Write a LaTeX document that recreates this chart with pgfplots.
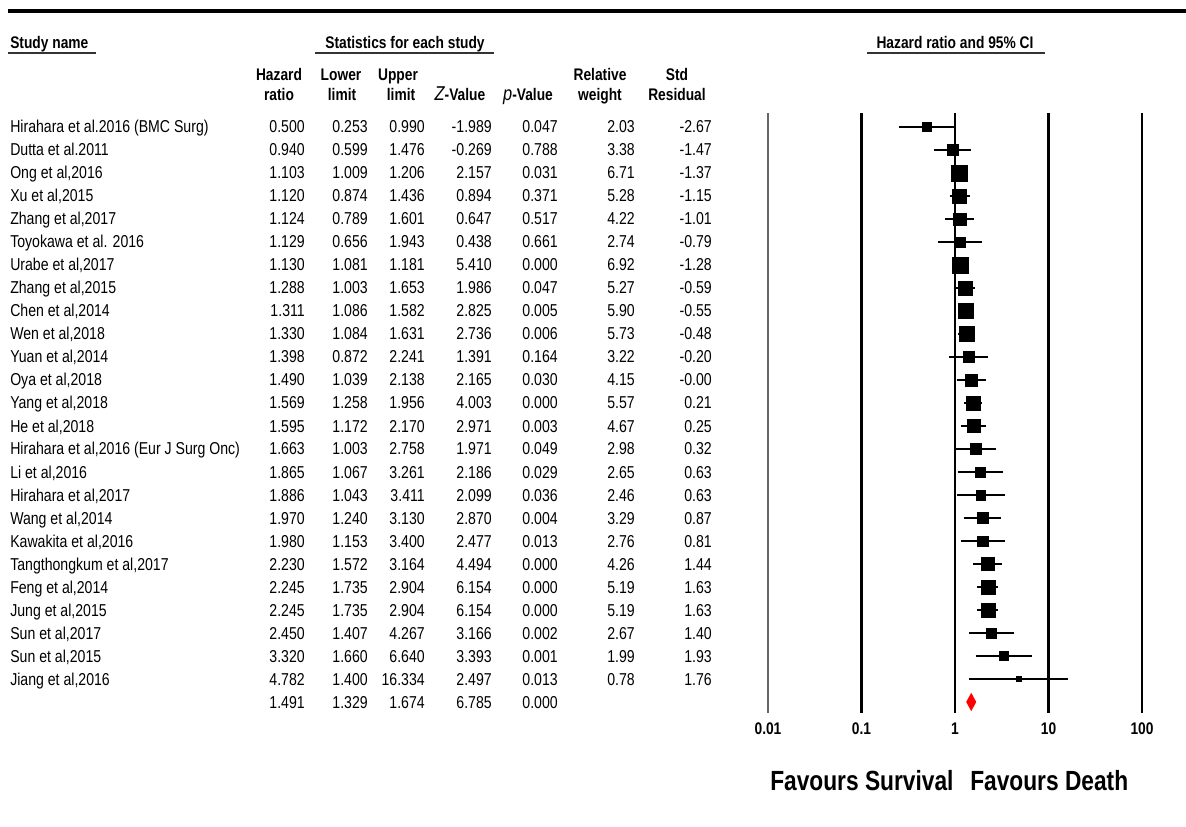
\documentclass[border=0pt]{standalone}
\usepackage{pgfplots}
\pgfplotsset{compat=1.18}
\usepackage{pgfplotstable}
\usepackage{fontspec}
\setmainfont{Liberation Sans}[FakeStretch=0.82]
\newcommand{\rowfont}{\fontsize{12.9}{14}\selectfont}
\newcommand{\hdfont}{\fontsize{12.6}{14}\selectfont\bfseries}
\newcommand{\ivfont}{\fontsize{15}{15}\selectfont\mdseries\itshape}

\pgfplotstableread{
i hr lo hi w
0 0.500 0.253 0.990 2.03
1 0.940 0.599 1.476 3.38
2 1.103 1.009 1.206 6.71
3 1.120 0.874 1.436 5.28
4 1.124 0.789 1.601 4.22
5 1.129 0.656 1.943 2.74
6 1.130 1.081 1.181 6.92
7 1.288 1.003 1.653 5.27
8 1.311 1.086 1.582 5.90
9 1.330 1.084 1.631 5.73
10 1.398 0.872 2.241 3.22
11 1.490 1.039 2.138 4.15
12 1.569 1.258 1.956 5.57
13 1.595 1.172 2.170 4.67
14 1.663 1.003 2.758 2.98
15 1.865 1.067 3.261 2.65
16 1.886 1.043 3.411 2.46
17 1.970 1.240 3.130 3.29
18 1.980 1.153 3.400 2.76
19 2.230 1.572 3.164 4.26
20 2.245 1.735 2.904 5.19
21 2.245 1.735 2.904 5.19
22 2.450 1.407 4.267 2.67
23 3.320 1.660 6.640 1.99
24 4.782 1.400 16.334 0.78
}\studies

\newcommand{\ci}[3]{\addplot[black, line width=2.1pt] coordinates {(#2,#1) (#3,#1)};}
\newcommand{\vl}[1]{\addplot[black, line width=2pt] coordinates {(#1,-0.609) (#1,25.48)};}

\newcommand{\trow}[9]{%
  \node[anchor=base west, inner sep=0pt] at (10,{133+23*#1}) {#2};
  \node[anchor=base east, inner sep=0pt] at (305,{133+23*#1}) {#3};
  \node[anchor=base east, inner sep=0pt] at (368,{133+23*#1}) {#4};
  \node[anchor=base east, inner sep=0pt] at (425,{133+23*#1}) {#5};
  \node[anchor=base east, inner sep=0pt] at (492,{133+23*#1}) {#6};
  \node[anchor=base east, inner sep=0pt] at (558,{133+23*#1}) {#7};
  \node[anchor=base east, inner sep=0pt] at (635,{133+23*#1}) {#8};
  \node[anchor=base east, inner sep=0pt] at (712,{133+23*#1}) {#9};
}

\begin{document}
\begin{tikzpicture}
\begin{scope}[x=0.75pt, y=-0.75pt]
\useasboundingbox (0,0) rectangle (1186,827);
% top rule
\draw[black, line width=3pt] (8,11) -- (1186,11);
% group headers
\node[anchor=base west, inner sep=0pt, font=\hdfont] at (10,49) {Study name};
\draw[black!80, line width=1.4pt] (8,53) -- (96,53);
\node[anchor=base, inner sep=0pt, font=\hdfont] at (405,49) {Statistics for each study};
\draw[black!80, line width=1.4pt] (315,53) -- (494,53);
\node[anchor=base, inner sep=0pt, font=\hdfont] at (955,49) {Hazard ratio and 95\% CI};
\draw[black!80, line width=1.4pt] (867,53) -- (1045,53);
% column headers
\begin{scope}[every node/.style={anchor=base, inner sep=0pt, font=\hdfont}]
\node at (279,81) {Hazard}; \node at (279,101) {ratio};
\node at (341,81) {Lower};  \node at (342,101) {limit};
\node at (398,81) {Upper};  \node at (401,101) {limit};
\node at (460,101) {{\ivfont Z}-Value};
\node at (528,101) {{\ivfont p}-Value};
\node at (600,81) {Relative}; \node at (600,101) {weight};
\node at (677,81) {Std}; \node at (677,101) {Residual};
\end{scope}
% table rows
\begin{scope}[every node/.style={font=\rowfont}]
\trow{0}{Hirahara et al.2016 (BMC Surg)}{0.500}{0.253}{0.990}{-1.989}{0.047}{2.03}{-2.67}
\trow{1}{Dutta et al.2011}{0.940}{0.599}{1.476}{-0.269}{0.788}{3.38}{-1.47}
\trow{2}{Ong et al,2016}{1.103}{1.009}{1.206}{2.157}{0.031}{6.71}{-1.37}
\trow{3}{Xu et al,2015}{1.120}{0.874}{1.436}{0.894}{0.371}{5.28}{-1.15}
\trow{4}{Zhang et al,2017}{1.124}{0.789}{1.601}{0.647}{0.517}{4.22}{-1.01}
\trow{5}{Toyokawa et al. 2016}{1.129}{0.656}{1.943}{0.438}{0.661}{2.74}{-0.79}
\trow{6}{Urabe et al,2017}{1.130}{1.081}{1.181}{5.410}{0.000}{6.92}{-1.28}
\trow{7}{Zhang et al,2015}{1.288}{1.003}{1.653}{1.986}{0.047}{5.27}{-0.59}
\trow{8}{Chen et al,2014}{1.311}{1.086}{1.582}{2.825}{0.005}{5.90}{-0.55}
\trow{9}{Wen et al,2018}{1.330}{1.084}{1.631}{2.736}{0.006}{5.73}{-0.48}
\trow{10}{Yuan et al,2014}{1.398}{0.872}{2.241}{1.391}{0.164}{3.22}{-0.20}
\trow{11}{Oya et al,2018}{1.490}{1.039}{2.138}{2.165}{0.030}{4.15}{-0.00}
\trow{12}{Yang et al,2018}{1.569}{1.258}{1.956}{4.003}{0.000}{5.57}{0.21}
\trow{13}{He et al,2018}{1.595}{1.172}{2.170}{2.971}{0.003}{4.67}{0.25}
\trow{14}{Hirahara et al,2016 (Eur J Surg Onc)}{1.663}{1.003}{2.758}{1.971}{0.049}{2.98}{0.32}
\trow{15}{Li et al,2016}{1.865}{1.067}{3.261}{2.186}{0.029}{2.65}{0.63}
\trow{16}{Hirahara et al,2017}{1.886}{1.043}{3.411}{2.099}{0.036}{2.46}{0.63}
\trow{17}{Wang et al,2014}{1.970}{1.240}{3.130}{2.870}{0.004}{3.29}{0.87}
\trow{18}{Kawakita et al,2016}{1.980}{1.153}{3.400}{2.477}{0.013}{2.76}{0.81}
\trow{19}{Tangthongkum et al,2017}{2.230}{1.572}{3.164}{4.494}{0.000}{4.26}{1.44}
\trow{20}{Feng et al,2014}{2.245}{1.735}{2.904}{6.154}{0.000}{5.19}{1.63}
\trow{21}{Jung et al,2015}{2.245}{1.735}{2.904}{6.154}{0.000}{5.19}{1.63}
\trow{22}{Sun et al,2017}{2.450}{1.407}{4.267}{3.166}{0.002}{2.67}{1.40}
\trow{23}{Sun et al,2015}{3.320}{1.660}{6.640}{3.393}{0.001}{1.99}{1.93}
\trow{24}{Jiang et al,2016}{4.782}{1.400}{16.334}{2.497}{0.013}{0.78}{1.76}
\trow{25}{}{1.491}{1.329}{1.674}{6.785}{0.000}{}{}
\end{scope}
% footer
\node[anchor=base west, inner sep=0pt, font=\fontsize{20.8}{22}\selectfont\bfseries] at (770,790) {Favours Survival};
\node[anchor=base west, inner sep=0pt, font=\fontsize{20.8}{22}\selectfont\bfseries] at (970,790) {Favours Death};
\end{scope}

\begin{axis}[
  at={(576pt,-534.75pt)}, anchor=south west,
  scale only axis, width=280.5pt, height=450pt,
  xmode=log, xmin=0.01, xmax=100,
  ymin=-0.609, ymax=25.48, y dir=reverse,
  axis line style={draw=none}, ytick=\empty,
  xtick={0.01,0.1,1,10,100}, xticklabels={0.01,0.1,1,10,100},
  xminorticks=false, yminorticks=false,
  major tick length=0pt, minor tick length=0pt,
  tick style={draw=none},
  xticklabel style={font=\hdfont, yshift=-4pt},
  clip=false,
]
\addplot[black!60, line width=1pt] coordinates {(0.01,-0.609) (0.01,25.48)};
\vl{0.1}\vl{1}\vl{10}\vl{100}
\ci{0}{0.253}{0.990}
\ci{1}{0.599}{1.476}
\ci{2}{1.009}{1.206}
\ci{3}{0.874}{1.436}
\ci{4}{0.789}{1.601}
\ci{5}{0.656}{1.943}
\ci{6}{1.081}{1.181}
\ci{7}{1.003}{1.653}
\ci{8}{1.086}{1.582}
\ci{9}{1.084}{1.631}
\ci{10}{0.872}{2.241}
\ci{11}{1.039}{2.138}
\ci{12}{1.258}{1.956}
\ci{13}{1.172}{2.170}
\ci{14}{1.003}{2.758}
\ci{15}{1.067}{3.261}
\ci{16}{1.043}{3.411}
\ci{17}{1.240}{3.130}
\ci{18}{1.153}{3.400}
\ci{19}{1.572}{3.164}
\ci{20}{1.735}{2.904}
\ci{21}{1.735}{2.904}
\ci{22}{1.407}{4.267}
\ci{23}{1.660}{6.640}
\ci{24}{1.400}{16.334}
\addplot[only marks, mark=square*, scatter,
  scatter/use mapped color={draw=black, fill=black},
  mark options={line width=0.3pt},
  visualization depends on={\thisrow{w} \as \wt},
  scatter/@pre marker code/.append style={/tikz/mark size={2.3*sqrt(\wt)}}]
  table[x=hr, y=i] {\studies};
\addplot[draw=red, fill=red] coordinates {(1.329,25) (1.491,24.63) (1.674,25) (1.491,25.37)} -- cycle;
\end{axis}
\end{tikzpicture}
\end{document}
